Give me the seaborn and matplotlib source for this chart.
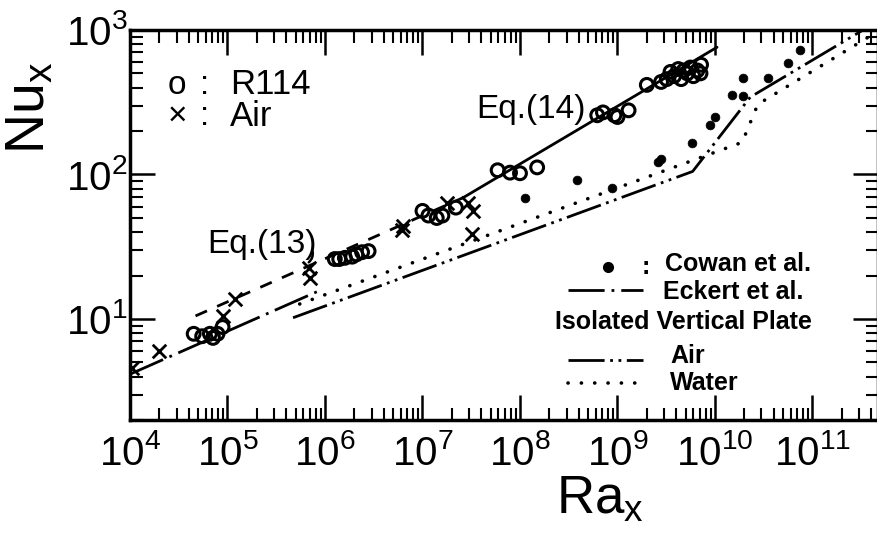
"""
Local Nusselt number vs Rayleigh number: R114 / air data against correlations.
"""

import numpy as np
import matplotlib
matplotlib.use("Agg")
import matplotlib.pyplot as plt
from matplotlib.ticker import LogLocator, NullFormatter
import seaborn as sns

# measured data, R114 (open circles)
r114_ra = [4.5e4, 5.5e4, 6.6e4, 7.1e4, 7.9e4, 8.9e4,
           1.26e6, 1.4e6, 1.6e6, 1.9e6, 2.1e6, 2.4e6, 2.8e6,
           1.0e7, 1.15e7, 1.4e7, 1.6e7, 2.2e7,
           5.9e7, 7.9e7, 1.0e8, 1.5e8,
           6.2e8, 7.1e8, 9.3e8, 1.0e9, 1.3e9,
           2.0e9, 2.8e9, 3.2e9, 3.5e9, 3.8e9, 4.2e9, 4.5e9, 4.8e9, 5.2e9,
           5.6e9, 6.0e9, 6.6e9, 7.1e9, 7.2e9]
r114_nu = [7.9, 7.6, 7.9, 7.4, 7.9, 8.8,
           26, 26, 26.5, 27, 28, 29, 29.5,
           56, 52, 50, 52, 59,
           107, 103, 102, 112,
           257, 269, 257, 250, 278,
           417, 437, 457, 513, 479, 537, 457, 525, 501,
           550, 479, 525, 501, 575]

# measured data, air (crosses)
air_ra = [1.05e4, 2.0e4, 8.9e4, 1.2e5, 6.8e5, 7.1e5, 6.2e6, 6.3e6,
          1.8e7, 2.9e7, 3.3e7, 3.2e7]
air_nu = [4.6, 6.0, 10.5, 13.8, 22.6, 19.3, 41, 44,
          64, 63, 56, 39]

# Cowan et al. (filled dots)
cowan_ra = [1.12e8, 3.8e8, 8.7e8, 2.6e9, 2.8e9, 5.8e9, 8.9e9, 1.0e10,
            1.48e10, 1.95e10, 1.95e10, 3.5e10, 5.6e10, 7.4e10]
cowan_nu = [69, 91, 81, 123, 129, 166, 219, 251,
            355, 347, 464, 464, 589, 724]

# correlations (straight segments in log-log)
eq13_ra = [4.7e4, 2.6e7]
eq13_nu = [10.5, 69]
eq14_ra = [2.6e7, 1.05e10]
eq14_nu = [69, 760]
eckert_ra = [1.0e4, 9.5e5]
eckert_nu = [4.15, 16.1]
plate_air_ra = [4.7e5, 5.9e9, 2.3e10, 3.3e11]
plate_air_nu = [10.2, 105, 343, 1000]
plate_water_ra = [5.5e5, 1.9e10, 2.75e10, 4.7e11]
plate_water_nu = [12.7, 167, 306, 980]

x_ticks = [1e4, 1e5, 1e6, 1e7, 1e8, 1e9, 1e10, 1e11]
x_tick_labels = [r"$10^{4}$", r"$10^{5}$", r"$10^{6}$", r"$10^{7}$",
                 r"$10^{8}$", r"$10^{9}$", r"$10^{10}$", r"$10^{11}$"]
y_ticks = [1e1, 1e2, 1e3]
y_tick_labels = [r"$10^{1}$", r"$10^{2}$", r"$10^{3}$"]

sns.set_style("ticks")
plt.rcParams["font.family"] = ["Liberation Sans", "DejaVu Sans"]
plt.rcParams["mathtext.default"] = "regular"
plt.rcParams["lines.scale_dashes"] = False
for key in ["text.color", "axes.labelcolor", "xtick.color", "ytick.color", "axes.edgecolor"]:
    plt.rcParams[key] = "black"

fig = plt.figure(figsize=(8.78, 5.34), dpi=100)
ax = fig.add_axes([130 / 878, 114 / 534, 748 / 878, 390 / 534])
ax.set_xscale("log")
ax.set_yscale("log")

LW = 2.0
line_styles = {
    "eq13": (0, (9, 8)),
    "eckert": (0, (26, 5, 2, 5)),
    "air": (0, (26, 4, 2, 4, 2, 4)),
    "water": (0, (0.1, 9.5)),
}

sns.lineplot(x=eq13_ra, y=eq13_nu, color="black", lw=LW, linestyle=line_styles["eq13"],
             estimator=None, sort=False, ax=ax)
sns.lineplot(x=eq14_ra, y=eq14_nu, color="black", lw=LW, estimator=None, sort=False, ax=ax)
sns.lineplot(x=eckert_ra, y=eckert_nu, color="black", lw=LW, linestyle=line_styles["eckert"],
             estimator=None, sort=False, ax=ax)
sns.lineplot(x=plate_air_ra, y=plate_air_nu, color="black", lw=LW, linestyle=line_styles["air"],
             estimator=None, sort=False, ax=ax)
sns.lineplot(x=plate_water_ra, y=plate_water_nu, color="black", lw=2.6,
             linestyle=line_styles["water"], dash_capstyle="round",
             estimator=None, sort=False, ax=ax)

sns.scatterplot(x=r114_ra, y=r114_nu, marker="o", s=85, color="black", edgecolor="black",
                linewidth=2.2, ax=ax, zorder=3)
ax.collections[-1].set_facecolor("none")
sns.scatterplot(x=air_ra, y=air_nu, marker="x", s=95, color="black", linewidth=2.0,
                ax=ax, zorder=3)
sns.scatterplot(x=cowan_ra, y=cowan_nu, marker="o", s=40, color="black", edgecolor="black",
                linewidth=0.5, ax=ax, zorder=3)

ax.set_xlim(1e4, 4.7e11)
ax.set_ylim(2, 1000)
ax.set_xticks(x_ticks, x_tick_labels)
ax.set_yticks(y_ticks, y_tick_labels)
for axis in (ax.xaxis, ax.yaxis):
    axis.set_minor_locator(LogLocator(base=10, subs=np.arange(2, 10), numticks=30))
    axis.set_minor_formatter(NullFormatter())
ax.tick_params(which="both", direction="in", top=True, right=True, color="black")
ax.tick_params(which="major", length=18, width=1.8)
ax.tick_params(which="minor", length=9, width=1.5)
ax.tick_params(axis="x", labelsize=29, pad=10)
ax.tick_params(axis="y", labelsize=29, pad=2)
for sp in ax.spines.values():
    sp.set_linewidth(2.5)

ax.set_xlabel(r"$Ra_x$", fontsize=38)
ax.xaxis.set_label_coords(0.628, -0.14)
ax.set_ylabel(r"$Nu_x$", fontsize=40)
ax.yaxis.set_label_coords(-0.098, 0.80)

# data key, upper left
ax.text(0.062, 0.858, "o", fontsize=24, ha="center", va="center", transform=ax.transAxes)
ax.text(0.063, 0.778, "×", fontsize=24, ha="center", va="center", transform=ax.transAxes)
for fy in (0.858, 0.778):
    ax.text(0.100, fy, ":", fontsize=24, ha="center", va="center", transform=ax.transAxes)
ax.text(0.134, 0.860, "R114", fontsize=25, ha="left", va="center", transform=ax.transAxes)
ax.text(0.134, 0.778, "Air", fontsize=25, ha="left", va="center", transform=ax.transAxes)

# correlation labels
ax.text(0.536, 0.795, "Eq.(14)", fontsize=24, ha="center", va="center", transform=ax.transAxes)
ax.text(0.176, 0.449, "Eq.(13)", fontsize=24, ha="center", va="center", transform=ax.transAxes)
ax.annotate("", xy=(0.236, 0.400), xytext=(0.243, 0.440), xycoords="axes fraction",
            arrowprops=dict(arrowstyle="-", lw=1.8, color="black",
                            connectionstyle="arc3,rad=-0.4"))

# line key, lower right
key_kw = dict(fontsize=18, fontweight="bold", va="center", transform=ax.transAxes)
ax.plot([0.639], [0.392], "o", color="black", ms=7, transform=ax.transAxes)
ax.text(0.689, 0.392, ":", ha="center", **key_kw)
ax.text(0.715, 0.400, "Cowan et al.", ha="left", **key_kw)
ax.plot([0.586, 0.686], [0.333, 0.333], color="black", lw=LW,
        linestyle=line_styles["eckert"], transform=ax.transAxes)
ax.text(0.713, 0.328, "Eckert et al.", ha="left", **key_kw)
ax.text(0.568, 0.251, "Isolated Vertical Plate", ha="left", **key_kw)
ax.plot([0.586, 0.686], [0.154, 0.154], color="black", lw=LW,
        linestyle=line_styles["air"], transform=ax.transAxes)
ax.text(0.722, 0.164, "Air", ha="left", **key_kw)
ax.plot([0.586, 0.686], [0.095, 0.095], color="black", lw=2.6,
        linestyle=line_styles["water"], dash_capstyle="round", transform=ax.transAxes)
ax.text(0.722, 0.095, "Water", ha="left", **key_kw)

fig.savefig("out.png", dpi=100)
